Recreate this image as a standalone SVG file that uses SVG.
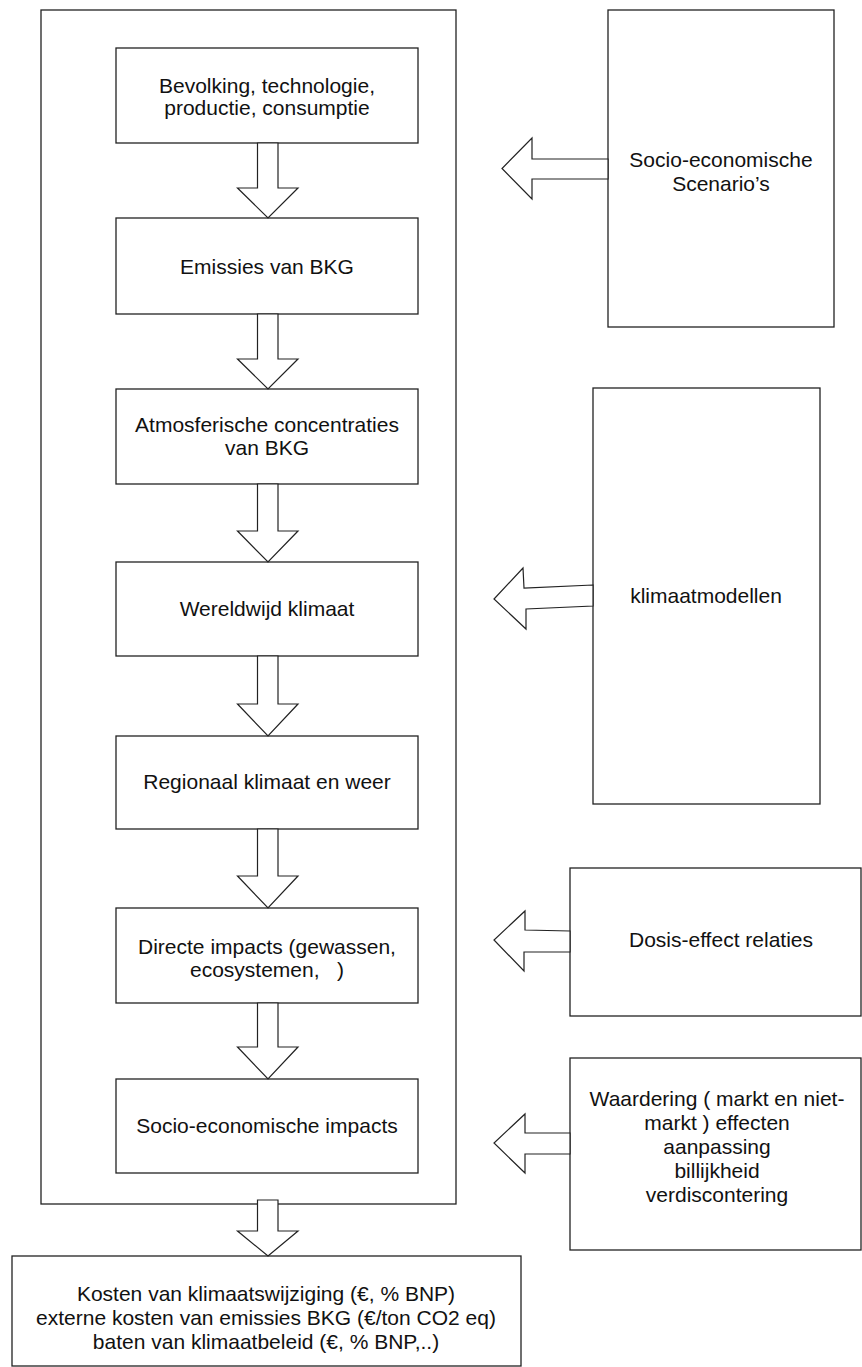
<svg xmlns="http://www.w3.org/2000/svg" width="862" height="1367" viewBox="0 0 862 1367">
  <style>
    .box { fill: #ffffff; stroke: #222222; stroke-width: 1.3; }
    .arr { fill: #ffffff; stroke: #222222; stroke-width: 1.2; stroke-linejoin: miter; }
    .t { font-family: "Liberation Sans", Arial, sans-serif; font-size: 21px; fill: #111111; text-anchor: middle; }
  </style>
  <rect width="862" height="1367" fill="#ffffff"/>

  <g id="outer">
    <rect class="box" x="41" y="10" width="415" height="1194"/>
  </g>

  <g id="n1">
    <rect class="box" x="116" y="48" width="302" height="95"/>
    <text class="t" x="267" y="93">Bevolking, technologie,</text>
    <text class="t" x="267" y="115">productie, consumptie</text>
  </g>
  <g id="n2">
    <rect class="box" x="116" y="218" width="302" height="96"/>
    <text class="t" x="267" y="274">Emissies van BKG</text>
  </g>
  <g id="n3">
    <rect class="box" x="116" y="389" width="302" height="95"/>
    <text class="t" x="267" y="432">Atmosferische concentraties</text>
    <text class="t" x="267" y="455">van BKG</text>
  </g>
  <g id="n4">
    <rect class="box" x="116" y="562" width="302" height="94"/>
    <text class="t" x="267" y="616">Wereldwijd klimaat</text>
  </g>
  <g id="n5">
    <rect class="box" x="116" y="736" width="302" height="93"/>
    <text class="t" x="267" y="789">Regionaal klimaat en weer</text>
  </g>
  <g id="n6">
    <rect class="box" x="116" y="908" width="302" height="95"/>
    <text class="t" x="267" y="954">Directe impacts (gewassen,</text>
    <text class="t" x="267" y="977" xml:space="preserve">ecosystemen,   )</text>
  </g>
  <g id="n7">
    <rect class="box" x="116" y="1079" width="302" height="94"/>
    <text class="t" x="267" y="1133">Socio-economische impacts</text>
  </g>
  <g id="n8">
    <rect class="box" x="12" y="1256" width="509" height="110"/>
    <text class="t" x="266" y="1301">Kosten van klimaatswijziging (€, % BNP)</text>
    <text class="t" x="266" y="1325">externe kosten van emissies BKG (€/ton CO2 eq)</text>
    <text class="t" x="266" y="1349">baten van klimaatbeleid (€, % BNP,..)</text>
  </g>

  <g id="r1">
    <rect class="box" x="608" y="10" width="226" height="317"/>
    <text class="t" x="721" y="167">Socio-economische</text>
    <text class="t" x="721" y="191">Scenario’s</text>
  </g>
  <g id="r2">
    <rect class="box" x="593" y="388" width="227" height="416"/>
    <text class="t" x="706" y="603">klimaatmodellen</text>
  </g>
  <g id="r3">
    <rect class="box" x="570" y="868" width="291" height="148"/>
    <text class="t" x="721" y="947">Dosis-effect relaties</text>
  </g>
  <g id="r4">
    <rect class="box" x="570" y="1058" width="291" height="192"/>
    <text class="t" x="717" y="1106">Waardering ( markt en niet-</text>
    <text class="t" x="717" y="1130">markt ) effecten</text>
    <text class="t" x="717" y="1154">aanpassing</text>
    <text class="t" x="717" y="1178">billijkheid</text>
    <text class="t" x="717" y="1202">verdiscontering</text>
  </g>

  <g id="connectors">
    <polygon class="arr" points="257.5,143 278,143 278,188 298,188 268,218 237.5,188 257.5,188"/>
    <polygon class="arr" points="257.5,314 278,314 278,359 298,359 268,389 237.5,359 257.5,359"/>
    <polygon class="arr" points="257.5,484 278,484 278,531 298,531 268,562 237.5,531 257.5,531"/>
    <polygon class="arr" points="257.5,656 278,656 278,704 298,704 268,736 237.5,704 257.5,704"/>
    <polygon class="arr" points="257.5,829 278,829 278,876 298,876 268,908 237.5,876 257.5,876"/>
    <polygon class="arr" points="257.5,1003 278,1003 278,1047 298,1047 268,1079 237.5,1047 257.5,1047"/>
    <polygon class="arr" points="257.5,1200 278,1200 278,1231 298,1231 268,1256 237.5,1231 257.5,1231"/>
    <polygon class="arr" points="608,159 532,159 532,138 502,168.5 532,199 532,179 608,179"/>
    <polygon class="arr" points="593,585 524,588 523,568 494,599 526,629 526,609 593,606"/>
    <polygon class="arr" points="570,931 525,930 525,911 494,940 524,971 524,952 570,952"/>
    <polygon class="arr" points="570,1133 525,1133 525,1114 494,1143 525,1173 525,1154 570,1154"/>
  </g>
</svg>
